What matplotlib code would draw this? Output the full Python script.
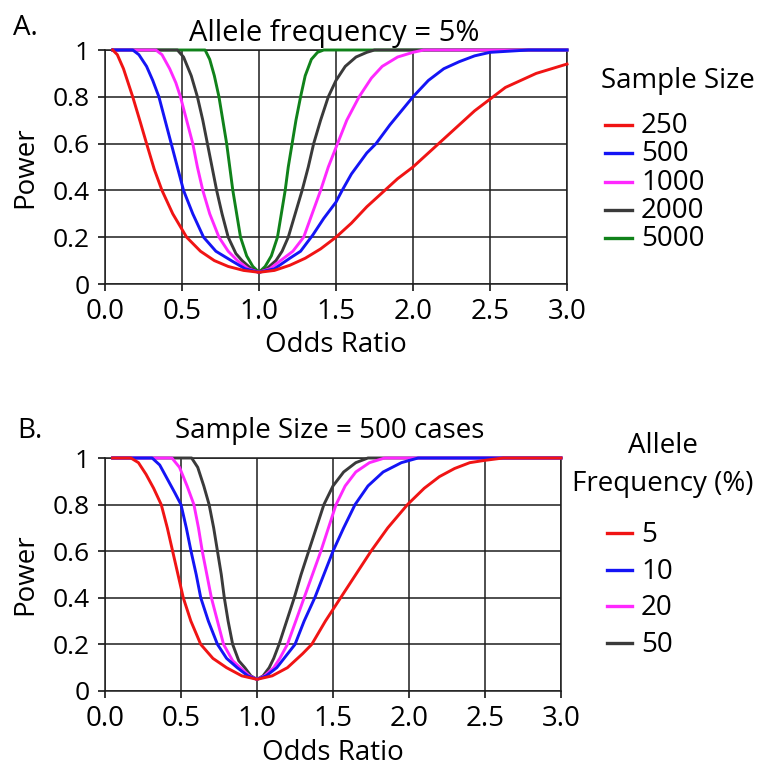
import matplotlib
matplotlib.use("Agg")
import matplotlib.pyplot as plt
from matplotlib.lines import Line2D

plt.rcParams['font.family'] = ['Open Sans', 'DejaVu Sans']

# ── Panel A: allele frequency 5%, power vs odds ratio per sample size ────────
or_a_250 = [0.05, 0.08, 0.12, 0.18, 0.23, 0.27, 0.32, 0.37, 0.44, 0.53, 0.62, 0.71, 0.80, 0.90, 1.0,
            1.1, 1.2, 1.3, 1.4, 1.5, 1.6, 1.7, 1.8, 1.9, 2.0, 2.1, 2.2, 2.3, 2.4, 2.5, 2.6, 2.7, 2.8, 2.9, 3.0]
pw_a_250 = [1.0, 0.98, 0.92, 0.80, 0.69, 0.60, 0.49, 0.40, 0.30, 0.20, 0.14, 0.10, 0.075, 0.058, 0.05,
            0.058, 0.08, 0.11, 0.15, 0.20, 0.26, 0.33, 0.39, 0.45, 0.50, 0.56, 0.62, 0.68, 0.74, 0.79, 0.84, 0.87, 0.90, 0.92, 0.94]

or_a_500 = [0.05, 0.18, 0.22, 0.27, 0.31, 0.35, 0.39, 0.43, 0.47, 0.51, 0.57, 0.64, 0.72, 0.82, 0.91, 1.0,
            1.1, 1.2, 1.27, 1.35, 1.42, 1.5, 1.54, 1.6, 1.7, 1.76, 1.85, 2.0, 2.1, 2.2, 2.3, 2.4, 2.5, 2.75, 3.0]
pw_a_500 = [1.0, 1.0, 0.98, 0.93, 0.87, 0.80, 0.70, 0.60, 0.50, 0.40, 0.30, 0.20, 0.14, 0.10, 0.065, 0.05,
            0.065, 0.11, 0.14, 0.21, 0.28, 0.35, 0.40, 0.47, 0.56, 0.60, 0.68, 0.80, 0.87, 0.92, 0.95, 0.975, 0.99, 1.0, 1.0]

or_a_1000 = [0.05, 0.33, 0.37, 0.42, 0.46, 0.49, 0.53, 0.57, 0.60, 0.635, 0.68, 0.74, 0.80, 0.86, 0.93, 1.0,
             1.07, 1.14, 1.22, 1.29, 1.345, 1.40, 1.45, 1.51, 1.57, 1.65, 1.73, 1.8, 1.9, 2.0, 2.07, 3.0]
pw_a_1000 = [1.0, 1.0, 0.98, 0.92, 0.86, 0.80, 0.70, 0.60, 0.50, 0.40, 0.30, 0.20, 0.14, 0.10, 0.065, 0.05,
             0.065, 0.10, 0.14, 0.20, 0.30, 0.40, 0.50, 0.60, 0.70, 0.80, 0.88, 0.93, 0.97, 0.99, 1.0, 1.0]

or_a_2000 = [0.05, 0.47, 0.51, 0.56, 0.60, 0.635, 0.665, 0.695, 0.725, 0.76, 0.80, 0.85, 0.89, 0.95, 1.0,
             1.05, 1.11, 1.15, 1.19, 1.235, 1.28, 1.32, 1.355, 1.40, 1.45, 1.5, 1.56, 1.63, 1.7, 1.75, 3.0]
pw_a_2000 = [1.0, 1.0, 0.97, 0.89, 0.80, 0.70, 0.60, 0.50, 0.40, 0.30, 0.20, 0.13, 0.10, 0.065, 0.05,
             0.065, 0.10, 0.14, 0.20, 0.30, 0.40, 0.50, 0.60, 0.70, 0.80, 0.87, 0.93, 0.97, 0.99, 1.0, 1.0]

or_a_5000 = [0.05, 0.65, 0.68, 0.71, 0.74, 0.765, 0.79, 0.81, 0.83, 0.855, 0.88, 0.92, 0.96, 1.0,
             1.04, 1.08, 1.12, 1.145, 1.17, 1.19, 1.215, 1.24, 1.27, 1.30, 1.34, 1.38, 1.42, 3.0]
pw_a_5000 = [1.0, 1.0, 0.96, 0.89, 0.80, 0.70, 0.60, 0.50, 0.40, 0.30, 0.20, 0.12, 0.075, 0.05,
             0.075, 0.12, 0.20, 0.30, 0.40, 0.50, 0.60, 0.70, 0.80, 0.89, 0.96, 0.99, 1.0, 1.0]

sizes_a  = ["250", "500", "1000", "2000", "5000"]
series_a = [(or_a_250, pw_a_250), (or_a_500, pw_a_500), (or_a_1000, pw_a_1000),
            (or_a_2000, pw_a_2000), (or_a_5000, pw_a_5000)]

# ── Panel B: 500 cases, power vs odds ratio per allele frequency ─────────────
or_b_5 = [0.05, 0.17, 0.22, 0.27, 0.32, 0.37, 0.41, 0.445, 0.48, 0.515, 0.565, 0.63, 0.71, 0.80, 0.90, 1.0,
          1.1, 1.2, 1.3, 1.36, 1.45, 1.55, 1.65, 1.75, 1.86, 1.99, 2.1, 2.2, 2.3, 2.4, 2.5, 2.62, 3.0]
pw_b_5 = [1.0, 1.0, 0.98, 0.93, 0.87, 0.80, 0.70, 0.60, 0.50, 0.40, 0.30, 0.20, 0.14, 0.10, 0.065, 0.05,
          0.065, 0.10, 0.16, 0.20, 0.30, 0.40, 0.50, 0.60, 0.70, 0.80, 0.87, 0.92, 0.955, 0.98, 0.99, 1.0, 1.0]

or_b_10 = [0.05, 0.31, 0.36, 0.41, 0.46, 0.50, 0.535, 0.566, 0.60, 0.63, 0.68, 0.74, 0.80, 0.87, 0.94, 1.0,
           1.06, 1.13, 1.19, 1.25, 1.31, 1.38, 1.44, 1.50, 1.57, 1.645, 1.73, 1.83, 1.95, 2.06, 3.0]
pw_b_10 = [1.0, 1.0, 0.97, 0.91, 0.85, 0.80, 0.70, 0.60, 0.50, 0.40, 0.30, 0.20, 0.14, 0.10, 0.065, 0.05,
           0.065, 0.10, 0.15, 0.20, 0.30, 0.40, 0.50, 0.60, 0.70, 0.80, 0.88, 0.94, 0.98, 1.0, 1.0]

or_b_20 = [0.05, 0.44, 0.49, 0.54, 0.585, 0.615, 0.64, 0.67, 0.70, 0.74, 0.78, 0.84, 0.89, 0.95, 1.0,
           1.05, 1.11, 1.15, 1.20, 1.255, 1.31, 1.365, 1.42, 1.47, 1.52, 1.58, 1.65, 1.74, 1.84, 3.0]
pw_b_20 = [1.0, 1.0, 0.96, 0.88, 0.80, 0.70, 0.60, 0.50, 0.40, 0.30, 0.20, 0.13, 0.10, 0.065, 0.05,
           0.065, 0.10, 0.14, 0.20, 0.30, 0.40, 0.50, 0.60, 0.70, 0.80, 0.88, 0.94, 0.98, 1.0, 1.0]

or_b_50 = [0.05, 0.57, 0.61, 0.65, 0.685, 0.715, 0.74, 0.765, 0.785, 0.81, 0.84, 0.88, 0.92, 0.96, 1.0,
           1.04, 1.08, 1.11, 1.145, 1.195, 1.245, 1.29, 1.34, 1.39, 1.44, 1.50, 1.57, 1.65, 1.73, 3.0]
pw_b_50 = [1.0, 1.0, 0.96, 0.88, 0.80, 0.70, 0.60, 0.50, 0.40, 0.30, 0.20, 0.13, 0.10, 0.065, 0.05,
           0.065, 0.10, 0.14, 0.20, 0.30, 0.40, 0.50, 0.60, 0.70, 0.80, 0.88, 0.94, 0.98, 1.0, 1.0]

freqs_b  = ["5", "10", "20", "50"]
series_b = [(or_b_5, pw_b_5), (or_b_10, pw_b_10), (or_b_20, pw_b_20), (or_b_50, pw_b_50)]

colors = ["#f01414", "#1414f5", "#ff28ff", "#3a3a3a", "#10821a"]

x_ticks  = [0.0, 0.5, 1.0, 1.5, 2.0, 2.5, 3.0]
y_ticks  = [0, 0.2, 0.4, 0.6, 0.8, 1]
y_labels = ["0", "0.2", "0.4", "0.6", "0.8", "1"]

W, H = 762, 766
fig = plt.figure(figsize=(W / 100, H / 100), dpi=100)


def fx(px):
    return px / W


def fy(py):
    return 1 - py / H


def make_axes(left, right, top, bottom):
    ax = fig.add_axes([fx(left), fy(bottom), fx(right - left), (bottom - top) / H])
    ax.set_xlim(0, 3)
    ax.set_ylim(0, 1)
    ax.set_xticks(x_ticks)
    ax.set_xticklabels([f"{t:.1f}" for t in x_ticks])
    ax.set_yticks(y_ticks)
    ax.set_yticklabels(y_labels)
    ax.grid(True, color="#1e1e1e", linewidth=1.1)
    ax.set_axisbelow(True)
    for s in ax.spines.values():
        s.set_linewidth(1.1)
        s.set_color("#1e1e1e")
    ax.tick_params(axis="x", direction="out", length=5, width=1.1, pad=5, labelsize=20)
    ax.tick_params(axis="y", direction="out", length=5, width=1.1, pad=6, labelsize=19)
    return ax


def draw_legend(title_lines, labels, cols, title_x, title_base, title_ha, x0, x1, base0, step, handle_off):
    for i, t in enumerate(title_lines):
        fig.text(fx(title_x), fy(title_base[i]), t, fontsize=20, ha=title_ha, va="baseline")
    for i, (lab, c) in enumerate(zip(labels, cols)):
        yb = base0 + i * step
        fig.add_artist(Line2D([fx(x0), fx(x1)], [fy(yb - handle_off)] * 2,
                              color=c, linewidth=2.4, transform=fig.transFigure))
        fig.text(fx(x1 + 9), fy(yb), lab, fontsize=20, ha="left", va="baseline")


# panel A
ax_a = make_axes(105, 567, 50, 284)
for (xs, ys), c in reversed(list(zip(series_a, colors))):
    ax_a.plot(xs, ys, color=c, linewidth=2.1, clip_on=False, zorder=3)

fig.text(fx(13), fy(35), "A.", fontsize=20, ha="left", va="baseline")
fig.text(fx(334), fy(41), "Allele frequency = 5%", fontsize=21, ha="center", va="baseline")
fig.text(fx(25), fy(167), "Power", fontsize=20, rotation=90, ha="center", va="center")
fig.text(fx(336), fy(352), "Odds Ratio", fontsize=20, ha="center", va="baseline")
draw_legend(["Sample Size"], sizes_a, colors, 601, [88], "left",
            605, 632, 133, 28.3, 8)

# panel B
ax_b = make_axes(105, 561, 458, 691)
for (xs, ys), c in reversed(list(zip(series_b, colors))):
    ax_b.plot(xs, ys, color=c, linewidth=2.1, clip_on=False, zorder=3)

fig.text(fx(17), fy(438), "B.", fontsize=20, ha="left", va="baseline")
fig.text(fx(330), fy(438), "Sample Size = 500 cases", fontsize=20, ha="center", va="baseline")
fig.text(fx(25), fy(574), "Power", fontsize=20, rotation=90, ha="center", va="center")
fig.text(fx(333), fy(760), "Odds Ratio", fontsize=20, ha="center", va="baseline")
draw_legend(["Allele", "Frequency (%)"], freqs_b, colors, 663, [453, 491], "center",
            607, 632, 542, 36.7, 9)

fig.savefig("out.png", dpi=100)
